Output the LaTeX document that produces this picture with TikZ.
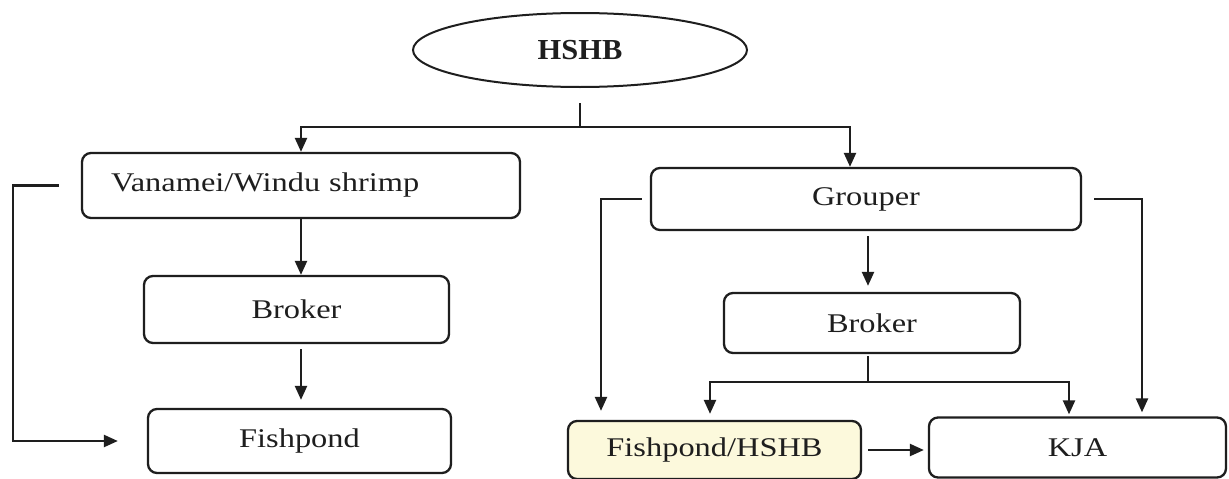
\documentclass[tikz,border=0pt]{standalone}
\usepackage{fontspec}
\setmainfont{Liberation Serif}[FakeStretch=1.2]
\newfontfamily\hshbfont{Liberation Serif}[FakeStretch=1.05]
\usetikzlibrary{arrows.meta,shapes.geometric}
\definecolor{ink}{HTML}{1E1E1E}
\definecolor{wmyellow}{HTML}{FCF9DC}
\tikzset{
  box/.style={draw=ink, line width=2.3pt, rounded corners=9pt, inner sep=0pt,
    font=\fontsize{27}{30}\selectfont, text=ink},
  conn/.style={draw=ink, line width=2.3pt},
  arr/.style={conn, -{Triangle[length=14pt,width=12pt]}},
}
\begin{document}
\begin{tikzpicture}[x=1pt,y=-1pt]
\fill[white] (0,0) rectangle (1229,479);
\useasboundingbox (0,0) rectangle (1229,479);

% nodes
\node[ellipse, draw=ink, line width=2pt, minimum width=334pt, minimum height=74pt,
  inner sep=0pt, text=ink, font={\hshbfont\fontsize{29}{30}\selectfont\bfseries}]
  (hshb) at (580,50) {HSHB};
\node[box, minimum width=438pt, minimum height=65pt, text width=380pt, align=left]
  (vanamei) at (301,185.5) {Vanamei/Windu shrimp};
\node[box, minimum width=305pt, minimum height=67pt] (brokerL) at (296.5,309.5) {Broker};
\node[box, minimum width=303pt, minimum height=64pt] (fishL) at (299.5,441) {Fishpond};
\node[box, minimum width=430pt, minimum height=62pt] (grouper) at (866,199) {Grouper};
\node[box, minimum width=296pt, minimum height=60pt] (brokerR) at (872,323) {Broker};
\node[box, fill=wmyellow, minimum width=293pt, minimum height=58pt] (fishH) at (714.5,450) {Fishpond/HSHB};
\node[box, minimum width=297pt, minimum height=60pt] (kja) at (1077.5,447.5) {KJA};

% helper coordinates
\coordinate (top) at (580,127);
\coordinate (gb) at (868,0);
\coordinate (gl) at (601,0);
\coordinate (gr) at (1142,0);
\coordinate (bs) at (868,382);

% connectors
\draw[conn] ([yshift=-15pt]hshb.south) -- (top);
\draw[arr] (top) -| (vanamei.north);
\draw[arr] (top) -| ([xshift=-16pt]grouper.north);

\draw[arr] (vanamei.south) -- (vanamei.south |- brokerL.north);
\draw[arr, shorten <=5pt, shorten >=8pt] (brokerL.south -| vanamei.south) -- (fishL.north -| vanamei.south);
\draw[arr] ([xshift=-22pt]vanamei.west) -- ++(-46,0) |- ([xshift=-29pt]fishL.west);

\draw[arr, shorten <=5pt, shorten >=6pt] (gb |- grouper.south) -- (gb |- brokerR.north);
\draw[arr, shorten >=9pt] ([xshift=-8pt]grouper.west) -| (gl |- fishH.north);
\draw[arr, shorten >=4pt] ([xshift=12pt]grouper.east) -| (gr |- kja.north);

\draw[conn, shorten <=2pt] (bs |- brokerR.south) -- (bs);
\draw[arr, shorten >=6pt] (bs) -| ([xshift=-4.5pt]fishH.north);
\draw[arr, shorten >=2pt] (bs) -| ([xshift=-8.5pt]kja.north);

\draw[arr] ([xshift=6pt]fishH.east) -- ([xshift=-4pt]fishH.east -| kja.west);
\end{tikzpicture}
\end{document}
